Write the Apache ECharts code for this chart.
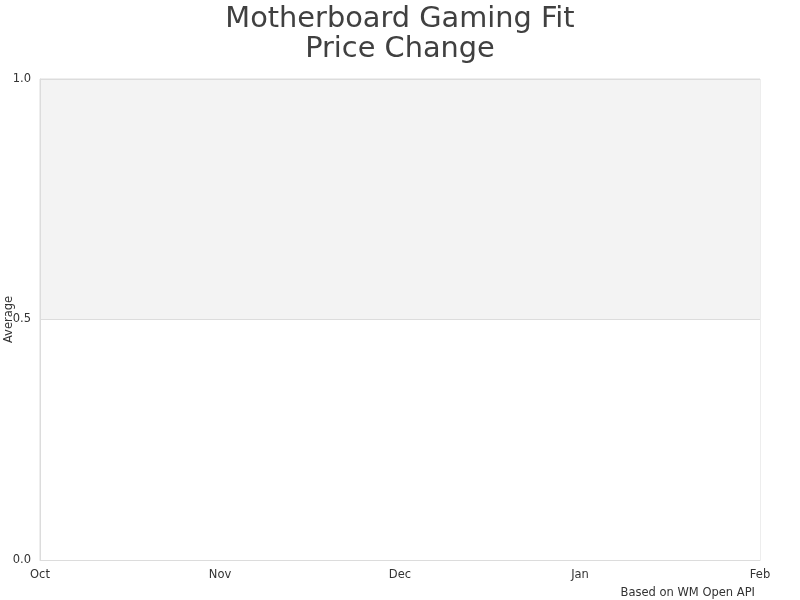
<!DOCTYPE html>
<html>
<head>
<meta charset="utf-8">
<script src="https://cdn.jsdelivr.net/npm/echarts@6/dist/echarts.min.js"></script>
<style>html,body{margin:0;padding:0;background:#fff}#c{width:800px;height:600px}</style>
</head>
<body>
<div id="c"></div>
<script>
var titleText = 'Motherboard Gaming Fit\nPrice Change';
var categories = ['Oct', 'Nov', 'Dec', 'Jan', 'Feb'];
var averageValues = [];
var yTicks = [0, 0.5, 1.0];
var creditText = 'Based on WM Open API';

var chart = echarts.init(document.getElementById('c'), null, {renderer: 'canvas'});
chart.setOption({
  animation: false,
  textStyle: {fontFamily: 'DejaVu Sans'},
  title: [{
    text: titleText,
    left: 'center',
    top: 0,
    textStyle: {fontSize: 28.8, fontWeight: 'normal', color: '#404040', lineHeight: 30, fontFamily: 'DejaVu Sans'}
  }, {
    text: creditText,
    right: 45,
    top: 587,
    padding: 0,
    textStyle: {fontSize: 11.5, fontWeight: 'normal', color: '#333', fontFamily: 'DejaVu Sans'}
  }],
  grid: {left: 40, right: 40, top: 79, bottom: 40, show: true, borderColor: '#dcdcdc', borderWidth: 1, backgroundColor: 'transparent', outerBoundsMode: 'none', containLabel: false},
  xAxis: {
    type: 'category',
    data: categories,
    boundaryGap: false,
    axisLine: {show: true, lineStyle: {color: '#dcdcdc'}},
    axisTick: {show: false},
    axisLabel: {color: '#333', fontSize: 11.5, margin: 9, fontFamily: 'DejaVu Sans'},
    splitLine: {show: false}
  },
  yAxis: {
    type: 'value',
    min: 0,
    max: 1,
    interval: 0.5,
    name: 'Average',
    nameLocation: 'middle',
    nameGap: 25,
    nameMoveOverlap: false,
    nameTextStyle: {color: '#333', fontSize: 11.5, fontFamily: 'DejaVu Sans'},
    axisLine: {show: true, lineStyle: {color: '#dcdcdc'}},
    axisTick: {show: false},
    axisLabel: {color: '#333', fontSize: 11.5, margin: 9, fontFamily: 'DejaVu Sans',
      formatter: function (v) { return v.toFixed(1); }},
    splitLine: {show: true, lineStyle: {color: '#dcdcdc'}},
    splitArea: {show: true, areaStyle: {color: ['#ffffff', '#f3f3f3']}}
  },
  series: [{
    type: 'line',
    name: 'Average',
    data: averageValues
  }]
});
</script>
</body>
</html>
